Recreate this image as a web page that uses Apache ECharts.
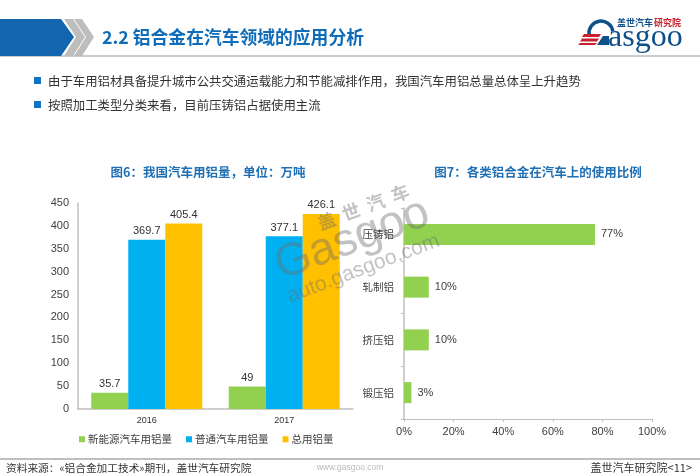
<!DOCTYPE html>
<html>
<head>
<meta charset="utf-8">
<style>
  html, body { margin: 0; padding: 0; background: #fff; }
  #chart { width: 700px; height: 476px; }
</style>
<script src="https://cdn.jsdelivr.net/npm/echarts@6/dist/echarts.min.js"></script>
</head>
<body>
<div id="chart"></div>
<script>
// Data
const years = ['2016', '2017'];
const newEnergy = [35.7, 49];
const normalCar = [369.7, 377.1];
const totalUse = [405.4, 426.1];
const seriesNames = ['新能源汽车用铝量', '普通汽车用铝量', '总用铝量'];
const alloyTypes = ['压铸铝', '轧制铝', '挤压铝', '锻压铝'];
const alloyShare = [77, 10, 10, 3];

const FONT = '"Noto Sans CJK SC", "Liberation Sans", sans-serif';
const NUM_FONT = '"Liberation Sans", "Noto Sans CJK SC", sans-serif';
const BLUE = '#0F6CB8';
const GREEN = '#92D050';
const SKY = '#00B0F0';
const AMBER = '#FFC000';
const AXIS = '#BFBFBF';

function label(text, x, y, size, color, extra) {
    return {
        type: 'text', x, y, z: 10, silent: true,
        style: Object.assign({
            text, fontSize: size, fill: color, fontFamily: FONT,
            textVerticalAlign: 'middle'
        }, extra || {})
    };
}

function poly(points, fill) {
    return { type: 'polygon', z: 10, silent: true, shape: { points }, style: { fill } };
}

// Slide furniture: header, bullets, footer, logo
const headerParts = [
    poly([[0, 19], [61, 19], [74, 37], [61, 56], [0, 56]], '#1265AE'),
    poly([[64, 19], [73, 19], [85, 37], [73, 56], [64, 56], [76, 37]], '#BDBDBD'),
    poly([[74, 19], [82, 19], [94, 37], [82, 56], [74, 56], [86, 37]], '#BDBDBD'),
    { type: 'rect', z: 9, silent: true, shape: { x: 0, y: 55, width: 700, height: 2 }, style: { fill: '#CCCCCC' } },
    label('2.2 铝合金在汽车领域的应用分析', 102, 37, 17.8, BLUE, { fontWeight: 'bold' }),
    { type: 'rect', z: 10, silent: true, shape: { x: 34, y: 77, width: 7, height: 7 }, style: { fill: '#1272BE' } },
    label('由于车用铝材具备提升城市公共交通运载能力和节能减排作用，我国汽车用铝总量总体呈上升趋势', 48, 81, 12.4, '#333333'),
    { type: 'rect', z: 10, silent: true, shape: { x: 34, y: 101, width: 7, height: 7 }, style: { fill: '#1272BE' } },
    label('按照加工类型分类来看，目前压铸铝占据使用主流', 48, 105, 12.4, '#333333'),
    label('图6：我国汽车用铝量，单位：万吨', 208, 172, 12.5, '#1F6FB5', { fontWeight: 'bold', textAlign: 'center' }),
    label('图7：各类铝合金在汽车上的使用比例', 538, 172, 12.5, '#1F6FB5', { fontWeight: 'bold', textAlign: 'center' }),
    { type: 'rect', z: 9, silent: true, shape: { x: 0, y: 458, width: 700, height: 2 }, style: { fill: '#BFBFBF' } },
    label('资料来源：«铝合金加工技术»期刊，盖世汽车研究院', 6, 468, 10.7, '#333333'),
    label('www.gasgoo.com', 350, 468, 8.5, '#BBBBBB', { textAlign: 'center', fontFamily: NUM_FONT }),
    label('盖世汽车研究院<11>', 692, 468, 11, '#333333', { textAlign: 'right' })
];

const logoParts = [
    { type: 'arc', z: 10, silent: true,
      shape: { cx: 601, cy: 33, r: 12, startAngle: Math.PI * 0.95, endAngle: Math.PI * 1.95, clockwise: true },
      style: { stroke: '#0F4F8A', lineWidth: 3.5, fill: null } },
    poly([[584, 34], [601, 34], [599, 37], [582, 37]], '#C8202E'),
    poly([[582, 38.5], [599, 38.5], [597, 41.5], [580, 41.5]], '#C8202E'),
    poly([[580, 43], [597, 43], [595, 45], [578, 45]], '#C8202E'),
    poly([[603, 36], [609, 36], [609, 45], [597, 45]], '#0F4F8A'),
    label('asgoo', 608, 38, 32, '#0F4F8A', { fontFamily: '"Liberation Serif", serif' }),
    label('盖世汽车', 617, 23, 9, '#0F4F8A', { fontWeight: 'bold' }),
    label('研究院', 654, 23, 9, '#C8202E', { fontWeight: 'bold' })
];

// Watermark across both charts
const WM = 'rgba(110,110,110,0.42)';
const WM_ANGLE = 0.36;
function wm(text, x, y, size, extra) {
    const t = label(text, x, y, size, WM, Object.assign({ fontFamily: NUM_FONT }, extra || {}));
    t.rotation = WM_ANGLE;
    t.z = 20;
    return t;
}
const watermarkParts = [
    wm('盖  世  汽  车', 318, 224, 18, { fontFamily: FONT, fontWeight: 'bold' }),
    wm('Gasgoo', 277, 268, 46),
    wm('auto.gasgoo.com', 288, 297, 21)
];

const chart = echarts.init(document.getElementById('chart'), null, { renderer: 'canvas' });

function barSeries(name, values, color) {
    return {
        name, type: 'bar', data: values, barWidth: 37, barGap: 0,
        itemStyle: { color },
        label: {
            show: true, position: 'top', distance: 3,
            fontSize: 11, color: '#333333', fontFamily: NUM_FONT
        }
    };
}

chart.setOption({
    animation: false,
    backgroundColor: '#fff',
    legend: {
        left: 74, top: 429, itemWidth: 6, itemHeight: 6, itemGap: 14,
        icon: 'rect', data: seriesNames,
        textStyle: { fontSize: 10.5, color: '#404040', fontFamily: FONT, padding: [0, 0, 0, -2] }
    },
    grid: [
        { left: 78, top: 203, width: 275, height: 206 },
        { left: 404, top: 208, width: 248, height: 211 }
    ],
    xAxis: [
        {
            gridIndex: 0, type: 'category', data: years,
            axisLine: { lineStyle: { color: AXIS, width: 1.5 } },
            axisTick: { show: false },
            axisLabel: { fontSize: 9, color: '#333333', fontFamily: NUM_FONT, margin: 7 }
        },
        {
            gridIndex: 1, type: 'value', min: 0, max: 100, interval: 20,
            axisLine: { show: true, lineStyle: { color: AXIS } },
            axisTick: { show: true, length: 3, inside: false, lineStyle: { color: AXIS } },
            splitLine: { show: false },
            axisLabel: { formatter: '{value}%', fontSize: 11, color: '#404040', fontFamily: NUM_FONT, margin: 7 }
        }
    ],
    yAxis: [
        {
            gridIndex: 0, type: 'value', min: 0, max: 450, interval: 50,
            axisLine: { show: true, lineStyle: { color: AXIS, width: 1.5 } },
            axisTick: { show: false },
            splitLine: { show: false },
            axisLabel: { fontSize: 11, color: '#404040', fontFamily: NUM_FONT, margin: 9 }
        },
        {
            gridIndex: 1, type: 'category', data: alloyTypes, inverse: true,
            axisLine: { show: true, lineStyle: { color: AXIS, width: 1.5 } },
            axisTick: { show: true, length: 3, lineStyle: { color: AXIS } },
            axisLabel: { fontSize: 10.5, color: '#404040', fontFamily: FONT, margin: 10 }
        }
    ],
    series: [
        barSeries(seriesNames[0], newEnergy, GREEN),
        barSeries(seriesNames[1], normalCar, SKY),
        barSeries(seriesNames[2], totalUse, AMBER),
        {
            type: 'bar', xAxisIndex: 1, yAxisIndex: 1, data: alloyShare, barWidth: 21,
            itemStyle: { color: GREEN },
            label: {
                show: true, position: 'right', distance: 6, formatter: '{c}%',
                fontSize: 11, color: '#404040', fontFamily: NUM_FONT
            }
        }
    ],
    graphic: headerParts.concat(logoParts, watermarkParts)
});
</script>
</body>
</html>
